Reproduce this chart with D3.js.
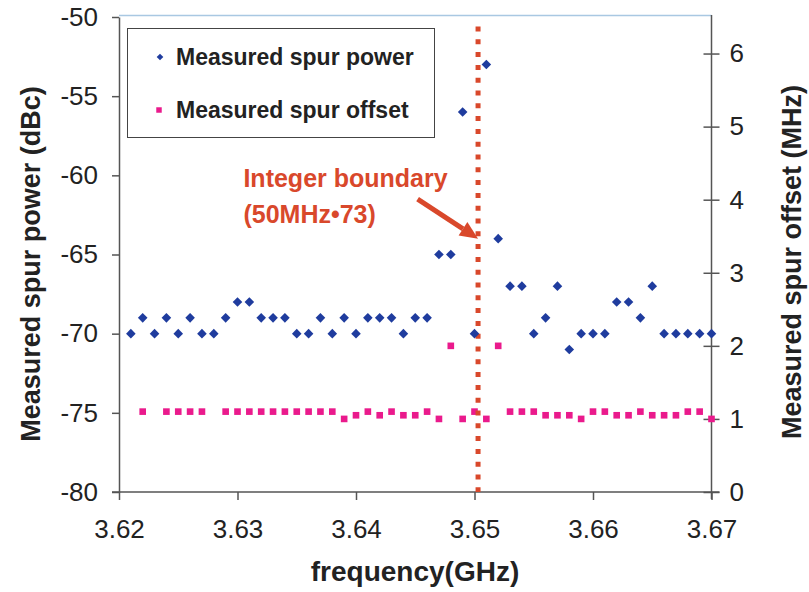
<!DOCTYPE html>
<html><head><meta charset="utf-8">
<script src="https://cdn.jsdelivr.net/npm/d3@7"></script>
<style>body{margin:0;background:#fff}svg{display:block}</style>
</head><body><svg id="c" width="809" height="592"></svg>
<script>
// ---------- data ----------
const frequency = [3.621,3.622,3.623,3.624,3.625,3.626,3.627,3.628,3.629,3.630,
                   3.631,3.632,3.633,3.634,3.635,3.636,3.637,3.638,3.639,3.640,
                   3.641,3.642,3.643,3.644,3.645,3.646,3.647,3.648,3.649,3.650,
                   3.651,3.652,3.653,3.654,3.655,3.656,3.657,3.658,3.659,3.660,
                   3.661,3.662,3.663,3.664,3.665,3.666,3.667,3.668,3.669,3.670];
const spurPower = [-70,-69,-70,-69,-70,-69,-70,-70,-69,-68,
                   -68,-69,-69,-69,-70,-70,-69,-70,-69,-70,
                   -69,-69,-69,-70,-69,-69,-65,-65,-56,-70,
                   -53,-64,-67,-67,-70,-69,-67,-71,-70,-70,
                   -70,-68,-68,-69,-67,-70,-70,-70,-70,-70];
const spurOffset = [null,1.1,null,1.1,1.1,1.1,1.1,null,1.1,1.1,
                    1.1,1.1,1.1,1.1,1.1,1.1,1.1,1.1,1.0,1.05,
                    1.1,1.05,1.1,1.05,1.05,1.1,1.0,2.0,1.0,1.1,
                    1.0,2.0,1.1,1.1,1.1,1.05,1.05,1.05,1.0,1.1,
                    1.1,1.05,1.05,1.1,1.05,1.05,1.05,1.1,1.1,1.0];
const powerTicks = [-50,-55,-60,-65,-70,-75,-80];
const offsetTicks = [0,1,2,3,4,5,6];
const freqTicks = [3.62,3.63,3.64,3.65,3.66,3.67];
const boundaryGHz = 3.6503;
const legendLabels = ["Measured spur power","Measured spur offset"];
const annotationLines = ["Integer boundary","(50MHz\u202273)"];

// ---------- layout ----------
const svg = d3.select("#c");
const X0 = 119, X1 = 711.5, YT = 17, YB = 492;
const x = d3.scaleLinear().domain([3.62,3.67]).range([X0,X1]);
const yL = d3.scaleLinear().domain([-80,-50]).range([YB,YT]);
const yR = d3.scaleLinear().domain([0,6.5]).range([YB,YT]);

const BLUE = "#1f3c9e", PINK = "#ea1a8c", RED = "#d9482b", AX = "#555", TXT = "#222";
const FONT = "'Liberation Sans', Arial, sans-serif";
const plain = d => String(d);

svg.append("rect").attr("width",809).attr("height",592).attr("fill","#fff");

// light top border
svg.append("line").attr("x1",X0).attr("x2",X1).attr("y1",YT-1.5).attr("y2",YT-1.5)
  .attr("stroke","#a9c8e2").attr("stroke-width",1.5);

// left axis
const gL = svg.append("g").attr("transform",`translate(${X0},0)`)
  .call(d3.axisLeft(yL).tickValues(powerTicks).tickSizeInner(7).tickSizeOuter(0).tickFormat(plain));
gL.select(".domain").attr("stroke",AX).attr("stroke-width",1.5);
gL.selectAll(".tick line").attr("stroke",AX).attr("stroke-width",1.5);
gL.selectAll(".tick text").attr("x",-21).attr("font-family",FONT).attr("font-size",26).attr("fill",TXT);

// right axis
const gR = svg.append("g").attr("transform",`translate(${X1},0)`)
  .call(d3.axisRight(yR).tickValues(offsetTicks).tickSizeInner(8).tickSizeOuter(0).tickFormat(plain));
gR.select(".domain").attr("d",`M0,${YT-2}V${YB+7}`).attr("stroke",AX).attr("stroke-width",1.5);
gR.selectAll(".tick line").attr("x1",-8).attr("x2",8).attr("stroke",AX).attr("stroke-width",1.5);
gR.selectAll(".tick text").attr("x",18).attr("font-family",FONT).attr("font-size",26).attr("fill",TXT);

// x axis
const gX = svg.append("g").attr("transform",`translate(0,${YB})`)
  .call(d3.axisBottom(x).tickValues(freqTicks).tickSizeInner(8).tickSizeOuter(0).tickFormat(d3.format(".2f")));
gX.select(".domain").attr("d",`M${X0-7},0H${X1+8}`).attr("stroke",AX).attr("stroke-width",1.5);
gX.selectAll(".tick line").attr("stroke",AX).attr("stroke-width",1.5);
gX.selectAll(".tick text").attr("y",46).attr("dy",0).attr("font-family",FONT).attr("font-size",26).attr("fill",TXT);

// axis titles
svg.append("text").attr("transform",`translate(40,264) rotate(-90)`).attr("text-anchor","middle")
  .attr("font-family",FONT).attr("font-weight","bold").attr("font-size",27).attr("fill",TXT)
  .text("Measured spur power (dBc)");
svg.append("text").attr("transform",`translate(801,262) rotate(-90)`).attr("text-anchor","middle")
  .attr("font-family",FONT).attr("font-weight","bold").attr("font-size",27).attr("fill",TXT)
  .text("Measured spur offset (MHz)");
svg.append("text").attr("x",415).attr("y",581).attr("text-anchor","middle")
  .attr("font-family",FONT).attr("font-weight","bold").attr("font-size",28).attr("fill",TXT)
  .text("frequency(GHz)");

// data rows
const rows = frequency.map((f,i)=>({f, p:spurPower[i], o:spurOffset[i]}));

// offset squares
const sq = d3.symbol(d3.symbolSquare, 44);
svg.append("g").selectAll("path").data(rows.filter(d=>d.o!=null)).join("path")
  .attr("d",sq).attr("fill",PINK)
  .attr("transform",d=>`translate(${x(d.f)},${yR(d.o)})`);

// boundary dotted line
svg.append("line").attr("x1",x(boundaryGHz)).attr("x2",x(boundaryGHz))
  .attr("y1",yL(-50.6)).attr("y2",YB)
  .attr("stroke",RED).attr("stroke-width",5).attr("stroke-dasharray","5 7.8");

// power diamonds
const dm = d3.symbol(d3.symbolSquare, 46);
svg.append("g").selectAll("path").data(rows).join("path")
  .attr("d",dm).attr("fill",BLUE)
  .attr("transform",d=>`translate(${x(d.f)},${yL(d.p)}) rotate(45)`);

// annotation
const ann = svg.append("g").attr("font-family",FONT).attr("font-weight","bold")
  .attr("font-size",25).attr("fill",RED);
ann.append("text").attr("x",x(3.6305)).attr("y",yL(-60.75)).text(annotationLines[0]);
ann.append("text").attr("x",x(3.6305)).attr("y",yL(-63.0)).text(annotationLines[1]);

// arrow
const a0 = [x(3.6452), yL(-61.5)], a1 = [x(3.6503), yL(-64.0)];
const ang = Math.atan2(a1[1]-a0[1], a1[0]-a0[0]);
const hl = 18, hw = 8;
const base = [a1[0]-hl*Math.cos(ang), a1[1]-hl*Math.sin(ang)];
svg.append("line").attr("x1",a0[0]).attr("y1",a0[1]).attr("x2",base[0]).attr("y2",base[1])
  .attr("stroke",RED).attr("stroke-width",5);
svg.append("path").attr("fill",RED).attr("d",
  `M${a1[0]},${a1[1]}L${base[0]-hw*Math.sin(ang)},${base[1]+hw*Math.cos(ang)}L${base[0]+hw*Math.sin(ang)},${base[1]-hw*Math.cos(ang)}Z`);

// legend
const lg = svg.append("g");
lg.append("rect").attr("x",127.5).attr("y",28.5).attr("width",307).attr("height",109)
  .attr("fill","#fff").attr("stroke","#444").attr("stroke-width",1);
lg.append("path").attr("d",d3.symbol(d3.symbolSquare,22)).attr("fill",BLUE)
  .attr("transform","translate(160,57) rotate(45)");
lg.append("path").attr("d",d3.symbol(d3.symbolSquare,30)).attr("fill",PINK)
  .attr("transform","translate(159,110)");
lg.selectAll("text.l").data(legendLabels).join("text").attr("class","l")
  .attr("x",176).attr("y",(d,i)=>65+i*53)
  .attr("font-family",FONT).attr("font-weight","bold").attr("font-size",23).attr("fill",TXT)
  .text(d=>d);
</script></body></html>
